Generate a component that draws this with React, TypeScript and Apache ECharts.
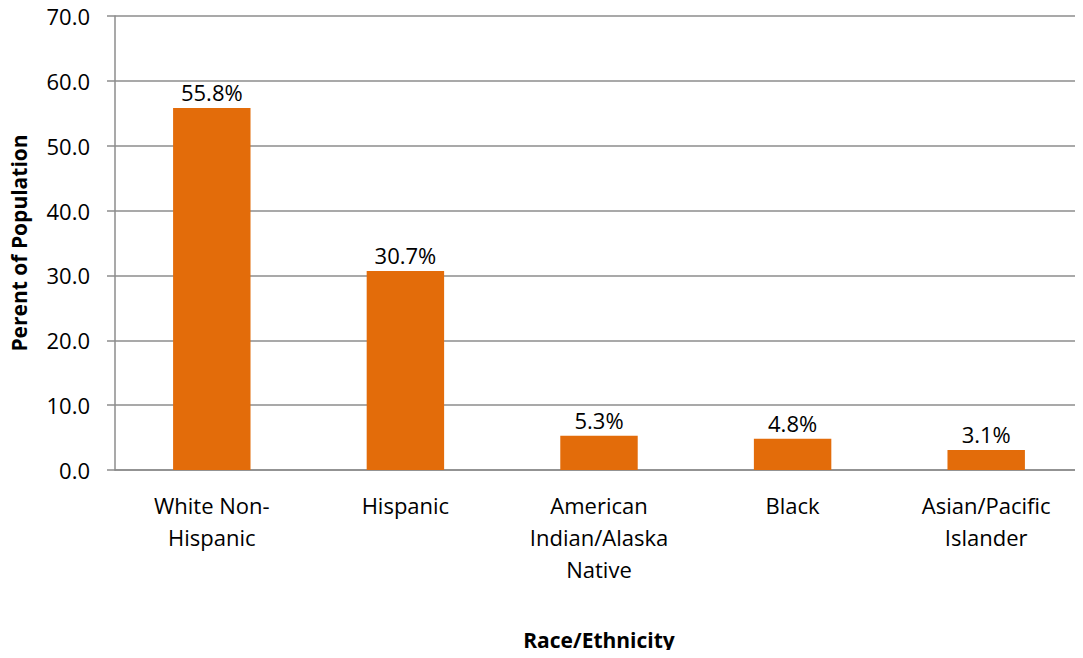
import React, { useEffect, useRef } from "react";
import * as echarts from "echarts";

const categories = [
  "White Non-\nHispanic",
  "Hispanic",
  "American\nIndian/Alaska\nNative",
  "Black",
  "Asian/Pacific\nIslander",
];
const values = [55.8, 30.7, 5.3, 4.8, 3.1];
const yTicks = { min: 0, max: 70, interval: 10 };

const FONT = "'Open Sans', sans-serif";

export default function App() {
  const ref = useRef<HTMLDivElement>(null);
  useEffect(() => {
    const chart = echarts.init(ref.current!, null, { renderer: "svg" });
    chart.setOption({
      animation: false,
      textStyle: { fontFamily: FONT },
      grid: { left: 115, right: -9, top: 16, bottom: 188, containLabel: false },
      xAxis: {
        type: "category",
        data: categories,
        name: "Race/Ethnicity",
        nameLocation: "middle",
        nameGap: 159,
        nameTextStyle: { fontSize: 21, fontWeight: "bold", color: "#000", fontFamily: FONT },
        axisLine: { lineStyle: { color: "#8c8c8c", width: 1.5 } },
        axisTick: { show: false },
        axisLabel: {
          fontSize: 22,
          color: "#000",
          lineHeight: 32,
          margin: 19,
          interval: 0,
          fontFamily: FONT,
        },
      },
      yAxis: {
        type: "value",
        min: yTicks.min,
        max: yTicks.max,
        interval: yTicks.interval,
        name: "Perent of Population",
        nameLocation: "middle",
        nameGap: 86,
        nameTextStyle: { fontSize: 21, fontWeight: "bold", color: "#000", fontFamily: FONT },
        axisLine: { show: true, lineStyle: { color: "#8c8c8c", width: 1.5 } },
        axisTick: { show: true, length: 8, lineStyle: { color: "#8c8c8c", width: 1.5 } },
        axisLabel: {
          fontSize: 22,
          color: "#000",
          margin: 25,
          formatter: (v: number) => v.toFixed(1),
          fontFamily: FONT,
        },
        splitLine: { lineStyle: { color: "#8c8c8c", width: 1.5 } },
      },
      series: [
        {
          type: "bar",
          data: values,
          barWidth: "40%",
          itemStyle: { color: "#E36C0A" },
          label: {
            show: true,
            position: "top",
            distance: 5,
            fontSize: 22,
            color: "#000",
            fontFamily: FONT,
            formatter: (p: any) => p.value.toFixed(1) + "%",
          },
        },
      ],
    });
    return () => chart.dispose();
  }, []);
  return <div ref={ref} style={{ width: 1083, height: 658, margin: -8 }} />;
}
